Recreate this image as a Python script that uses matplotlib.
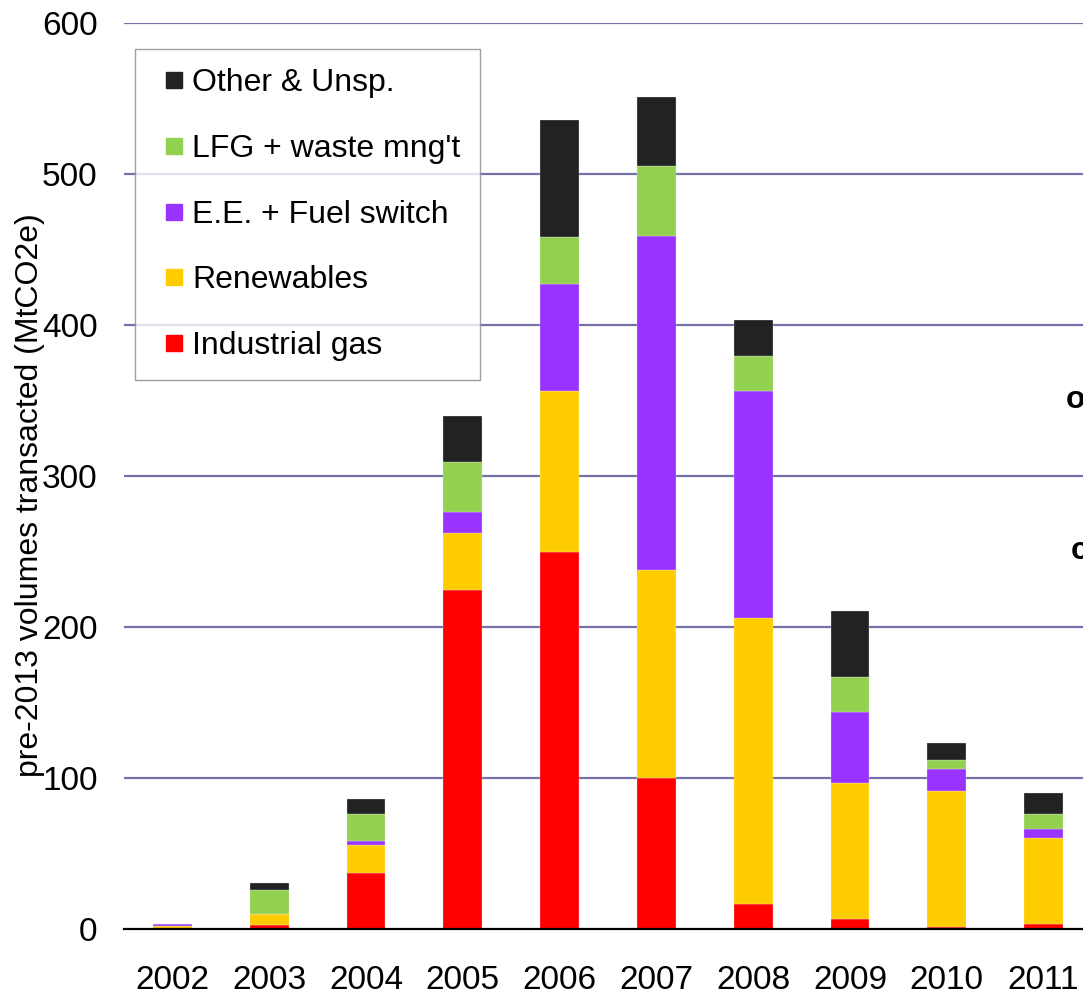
import matplotlib
matplotlib.use('Agg')
import matplotlib.pyplot as plt
from matplotlib.lines import Line2D
import numpy as np

plt.rcParams['font.family'] = ['Liberation Sans', 'DejaVu Sans']

years = ['2002', '2003', '2004', '2005', '2006', '2007', '2008', '2009', '2010', '2011']

# MtCO2e per project type
industrial_gas = [0, 2.6, 37, 224.5, 250, 100, 16.5, 6.5, 1, 3]
renewables = [2, 7.5, 18.5, 37.5, 106, 138, 189.5, 90, 90.5, 57]
ee_fuel_switch = [1.5, 0, 2.5, 14, 71, 221, 150, 47.5, 14.5, 6.5]
lfg_waste = [0, 15.5, 18, 33, 31, 46, 23.5, 23, 6, 9.5]
other_unsp = [0, 5, 10, 31, 78, 46, 23.5, 43.5, 11.5, 14]

series = [
    ('Industrial gas', industrial_gas, '#ff0000'),
    ('Renewables', renewables, '#ffcc00'),
    ('E.E. + Fuel switch', ee_fuel_switch, '#9933ff'),
    ("LFG + waste mng't", lfg_waste, '#92d050'),
    ('Other & Unsp.', other_unsp, '#222222'),
]

fig = plt.figure(figsize=(10.83, 9.93), dpi=100)
ax = fig.add_axes([124 / 1083, 1 - 929 / 993, 1 - 124 / 1083, 906 / 993])

x = np.arange(len(years))
bottom = np.zeros(len(years))
for name, vals, col in series:
    ax.bar(x, vals, width=0.4, bottom=bottom, color=col,
           edgecolor='#f0f0f0', linewidth=0.2, label=name, zorder=3)
    bottom += np.array(vals)

ax.set_xlim(-0.5, (1083 - 124) / 96.8 - 0.5)
ax.set_ylim(0, 600)
ax.set_yticks(range(0, 601, 100))
ax.set_xticks(x)
ax.set_xticklabels(years)
ax.tick_params(axis='both', length=0, labelsize=24)
ax.tick_params(axis='x', pad=26)
ax.tick_params(axis='y', pad=19)

for v in range(100, 601, 100):
    ax.axhline(v, color='#7272a8', linewidth=1.6, zorder=1)

for s in ['left', 'right', 'top']:
    ax.spines[s].set_visible(False)
ax.spines['bottom'].set_linewidth(1.6)
ax.spines['bottom'].set_zorder(4)

ax.set_ylabel('pre-2013 volumes transacted (MtCO2e)', fontsize=23)
ax.yaxis.set_label_coords((45 - 124) / 959, (929 - 495) / 906)

# legend: small square markers, top entry first
legend_elements = [
    Line2D([0], [0], marker='s', linestyle='None', markersize=12,
           markerfacecolor=col, markeredgecolor=col, label=name)
    for name, vals, col in series[::-1]
]
leg = ax.legend(handles=legend_elements, loc='upper left',
                bbox_to_anchor=(11 / 959, 1 - 26 / 906), fontsize=23,
                frameon=True, fancybox=False, edgecolor='#888888',
                handlelength=1.25, handletextpad=-0.05,
                labelspacing=1.12, borderpad=0.6, borderaxespad=0)
leg.get_frame().set_linewidth(1.0)
leg.set_zorder(5)

fig.text(1066 / 1083, 1 - 400 / 993, 'o', fontsize=23, fontweight='bold',
         ha='left', va='center')
fig.text(1071 / 1083, 1 - 551 / 993, 'c', fontsize=23, fontweight='bold',
         ha='left', va='center')

plt.savefig('out.png', dpi=100)
